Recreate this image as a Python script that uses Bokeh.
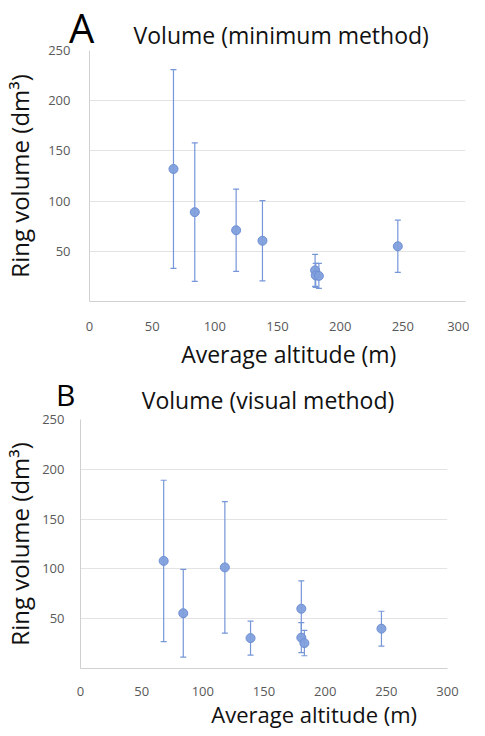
from bokeh.plotting import figure
from bokeh.models import ColumnDataSource, Whisker, TeeHead, FixedTicker, Label, Range1d
from bokeh.layouts import column
from bokeh.embed import file_html
from bokeh.resources import INLINE

# ---- data ----
alt_a = [67, 84, 117, 138, 180, 180.5, 183, 246]
vol_a = [132, 89, 71, 60.5, 31, 26, 25.5, 55]
sd_a = [99, 69, 41, 40, 16, 12, 12.5, 26]

alt_b = [68, 84, 118, 139, 180.5, 180.5, 183, 246]
vol_b = [108, 55.5, 101.5, 30.5, 60, 31, 25.5, 40]
sd_b = [81, 44, 66, 17, 28, 15, 12.7, 17.5]

x_ticks = [0, 50, 100, 150, 200, 250, 300]
y_ticks = [50, 100, 150, 200, 250]

FONT = "Open Sans"
MARK = "#7f9fdc"
BAR = "#7696d8"
TICK_COL = "#595959"
TEXT_COL = "#111111"
W = 469


def header(top, height, overlap, letter, letter_size, letter_pos, title, title_pos):
    h = figure(width=W, height=height, x_range=Range1d(8, 8 + W),
               y_range=Range1d(top + height, top), min_border=0,
               x_axis_location=None, y_axis_location=None,
               output_backend="svg", toolbar_location=None, frame_align=False,
               margin=(0, 0, -overlap, 0))
    h.title = None
    h.grid.visible = False
    h.outline_line_color = None
    h.background_fill_color = None
    h.border_fill_color = None
    h.add_layout(Label(x=letter_pos[0], y=letter_pos[1], text=letter,
                       text_font=FONT, text_font_size=letter_size,
                       text_color="black", text_baseline="middle",
                       text_align="left"))
    h.add_layout(Label(x=title_pos[0], y=title_pos[1], text=title,
                       text_font=FONT, text_font_size="23px",
                       text_color=TEXT_COL, text_baseline="middle",
                       text_align="center"))
    return h


def panel(alt, vol, sd, height, bl, br, bt, bb, xstand, ystand, lstand,
          xlab_x, xlab_size, xlab_dy):
    p = figure(width=W, height=height, x_range=(0, 300), y_range=(0, 250),
               output_backend="svg", toolbar_location=None, frame_align=False,
               min_border_left=bl, min_border_right=br, min_border_top=bt,
               min_border_bottom=bb)
    p.title = None
    p.outline_line_color = None
    p.border_fill_color = None
    p.background_fill_color = "white"
    src = ColumnDataSource(dict(
        x=alt, y=vol,
        upper=[v + s for v, s in zip(vol, sd)],
        lower=[v - s for v, s in zip(vol, sd)],
    ))
    w = Whisker(source=src, base="x", upper="upper", lower="lower",
                line_color=BAR, line_width=1.2,
                upper_head=TeeHead(size=6, line_color=BAR, line_width=1.2),
                lower_head=TeeHead(size=6, line_color=BAR, line_width=1.2))
    p.add_layout(w)
    p.scatter("x", "y", source=src, size=9, fill_color=MARK, fill_alpha=0.95,
              line_color="#6f8fd4", line_width=1)
    p.xaxis.ticker = FixedTicker(ticks=x_ticks)
    p.yaxis.ticker = FixedTicker(ticks=y_ticks)
    for ax in (p.xaxis, p.yaxis):
        ax.major_tick_line_color = None
        ax.minor_tick_line_color = None
        ax.axis_line_color = "#d0d0d0"
        ax.major_label_text_font = FONT
        ax.major_label_text_font_size = "13px"
        ax.major_label_text_color = TICK_COL
    p.xaxis.major_label_standoff = xstand
    p.yaxis.major_label_standoff = ystand
    p.yaxis.axis_label = "Ring volume (dm³)"
    p.yaxis.axis_label_text_font = FONT
    p.yaxis.axis_label_text_font_size = "24px"
    p.yaxis.axis_label_text_font_style = "normal"
    p.yaxis.axis_label_text_color = TEXT_COL
    p.yaxis.axis_label_standoff = lstand
    p.xgrid.grid_line_color = None
    p.ygrid.grid_line_color = "#e3e3e3"
    p.ygrid.ticker = FixedTicker(ticks=y_ticks)
    p.add_layout(Label(x=xlab_x, y=xlab_dy, y_units="screen",
                       text="Average altitude (m)", text_align="center",
                       text_font=FONT, text_font_size=xlab_size,
                       text_color=TEXT_COL), "below")
    return p


# header A: canvas 0..56, plot A canvas starts at 41 (overlap 15)
hA = header(0, 56, 15, "A", "40px", (76.5, 27.4), "Volume  (minimum method)", (291.7, 34.0))
pA = panel(alt_a, vol_a, sd_a, height=329, bl=78, br=4, bt=9, bb=69,
           xstand=14, ystand=13, lstand=9, xlab_x=159, xlab_size="23px", xlab_dy=-4)
# header B: canvas 370..416, plot B canvas starts at 410 (overlap 6)
hB = header(370, 46, 6, "B", "30px", (63.5, 394), "Volume  (visual method)", (278.5, 399.5))
pB = panel(alt_b, vol_b, sd_b, height=318, bl=69, br=22, bt=9, bb=60,
           xstand=12, ystand=10, lstand=3, xlab_x=191, xlab_size="22px", xlab_dy=0)

layout = column(hA, pA, hB, pB, spacing=0)
open("out.html", "w").write(file_html(layout, INLINE))
